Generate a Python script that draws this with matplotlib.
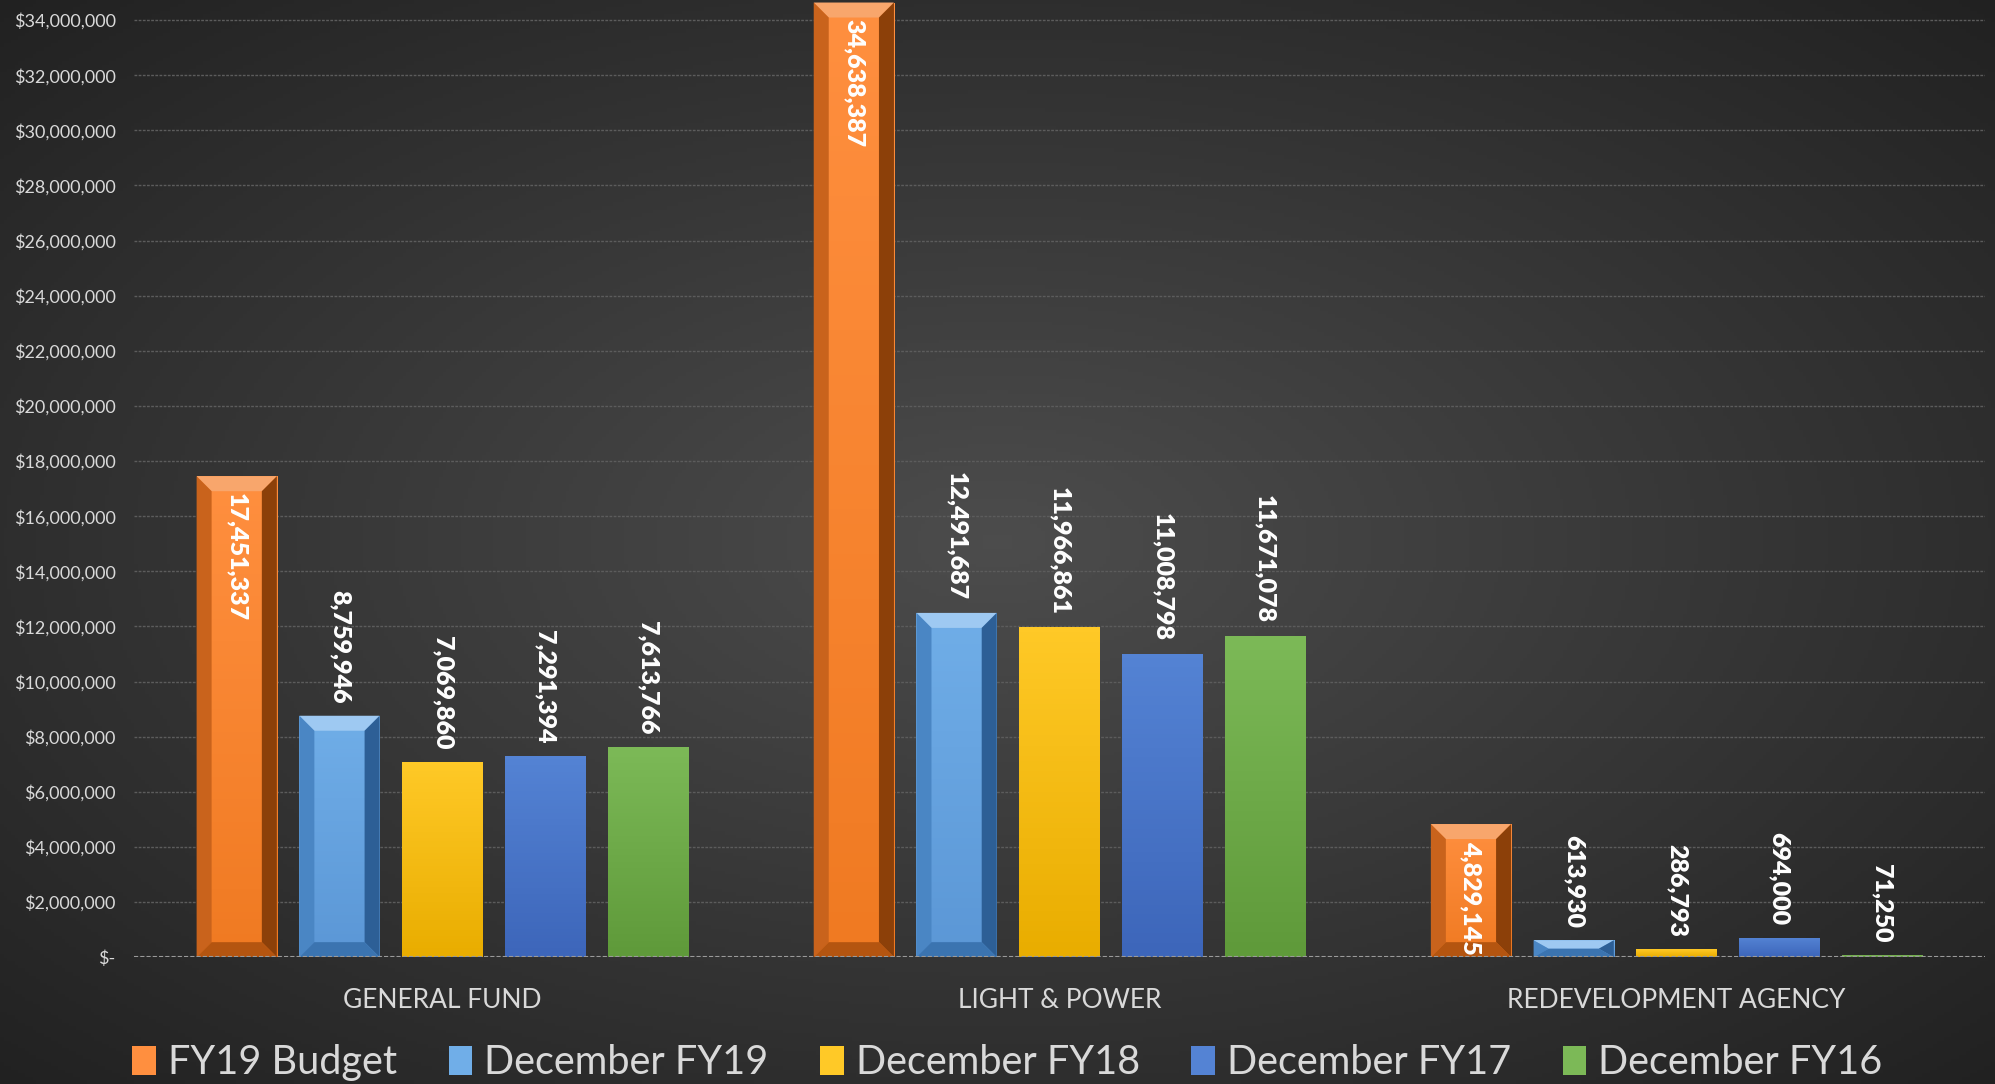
import numpy as np
import matplotlib
matplotlib.use("Agg")
import matplotlib.pyplot as plt
from matplotlib.patches import Polygon, Patch
from matplotlib.ticker import FuncFormatter, MultipleLocator

plt.rcParams["font.family"] = ["Lato", "DejaVu Sans"]

categories = ["GENERAL FUND", "LIGHT & POWER", "REDEVELOPMENT AGENCY"]
series = ["FY19 Budget", "December FY19", "December FY18", "December FY17", "December FY16"]
fy19_budget = [17451337, 34638387, 4829145]
dec_fy19 = [8759946, 12491687, 613930]
dec_fy18 = [7069860, 11966861, 286793]
dec_fy17 = [7291394, 11008798, 694000]
dec_fy16 = [7613766, 11671078, 71250]
values = [fy19_budget, dec_fy19, dec_fy18, dec_fy17, dec_fy16]

# (top colour, bottom colour) per series, and whether the bar is bevelled
top_cols = ["#ff8f3f", "#70aee8", "#ffc927", "#5483d4", "#7cb957"]
bot_cols = ["#f07a22", "#5b97d6", "#e9ad00", "#3d66ba", "#5f9a3a"]
bevel = [True, True, False, False, False]
bevel_cols = [
    # top, left, right, bottom
    ("#f8a66c", "#c9631c", "#8c4009", "#b45510"),
    ("#9ec9f2", "#4a86c4", "#2d5f96", "#3b74b0"),
]
label_inside = [True, False, False, False, False]

W, H = 1995, 1084
fig = plt.figure(figsize=(W / 100, H / 100), dpi=100)

# radial dark background
bg = fig.add_axes([0, 0, 1, 1], zorder=-10)
yy, xx = np.mgrid[0:1:300j, 0:1:550j]
r = np.sqrt(((xx - 0.5) / 0.75) ** 2 + ((yy - 0.5) / 0.75) ** 2)
shade = np.clip(0.30 - 0.18 * r, 0.12, 0.3)
bg.imshow(np.dstack([shade, shade, shade]), aspect="auto", extent=[0, 1, 0, 1])
bg.set_axis_off()

ax = fig.add_axes([0.067, 0.117, 0.928, 0.883])
ax.patch.set_alpha(0)
ymax = 34730000
ax.set_xlim(-0.5, 2.5)
ax.set_ylim(0, ymax)

slot = 0.1665
width = 0.13
x = np.arange(len(categories))

inv = ax.transData.inverted()
p0 = inv.transform((0, 0))
p1 = inv.transform((15, 15))
bx_px, by_px = p1 - p0

for i, vals in enumerate(values):
    xs = x + (i - 2) * slot
    bars = ax.bar(xs, vals, width=width, color=bot_cols[i], zorder=3, linewidth=0)
    grad = np.linspace(0, 1, 64)[:, None]
    c_top = np.array(matplotlib.colors.to_rgb(top_cols[i]))
    c_bot = np.array(matplotlib.colors.to_rgb(bot_cols[i]))
    img = c_top[None, None, :] * (1 - grad[:, :, None]) + c_bot[None, None, :] * grad[:, :, None]
    for b, v in zip(bars, vals):
        x0 = b.get_x()
        x1 = x0 + b.get_width()
        im = ax.imshow(img, extent=[x0, x1, 0, v], aspect="auto", zorder=3.1)
        im.set_clip_path(b)
        if bevel[i]:
            bx = min(bx_px, (x1 - x0) / 2)
            by = min(by_px, v / 2)
            ct, cl, cr, cb = bevel_cols[i]
            faces = [
                ([(x0, v), (x1, v), (x1 - bx, v - by), (x0 + bx, v - by)], ct),
                ([(x0, 0), (x0, v), (x0 + bx, v - by), (x0 + bx, by)], cl),
                ([(x1, 0), (x1, v), (x1 - bx, v - by), (x1 - bx, by)], cr),
                ([(x0, 0), (x1, 0), (x1 - bx, by), (x0 + bx, by)], cb),
            ]
            for pts, c in faces:
                ax.add_patch(Polygon(pts, closed=True, facecolor=c, edgecolor="none", zorder=3.2))
        xc = x0 + (x1 - x0) / 2
        if label_inside[i]:
            ax.annotate(f"{v:,}", (xc, v), xytext=(0, -12), textcoords="offset points",
                        rotation=270, ha="center", va="top", color="white",
                        fontsize=18, fontweight="heavy", zorder=5)
        else:
            ax.annotate(f"{v:,}", (xc, v), xytext=(0, 9), textcoords="offset points",
                        rotation=270, ha="center", va="bottom", color="white",
                        fontsize=18, fontweight="heavy", zorder=5)

ax.yaxis.set_major_locator(MultipleLocator(2000000))
ax.yaxis.set_major_formatter(FuncFormatter(lambda v, p: "$-" if v == 0 else f"${v:,.0f}"))
ax.grid(axis="y", color="#5c5c5c", linestyle=(0, (2, 1)), linewidth=1, zorder=0)
ax.axhline(0, color="#9a9a9a", linestyle=(0, (2, 1)), linewidth=1.5, zorder=4)
ax.set_xticks(x)
ax.set_xticklabels(categories)
ax.tick_params(axis="x", length=0, pad=22, labelsize=19, labelcolor="#d9d9d9")
ax.tick_params(axis="y", length=0, pad=13, labelsize=13, labelcolor="#d9d9d9")
for s in ax.spines.values():
    s.set_visible(False)

handles = [Patch(facecolor=top_cols[i], edgecolor="none") for i in range(len(series))]
leg = fig.legend(handles, series, loc="lower center", bbox_to_anchor=(0.505, -0.03), ncol=5,
                 frameon=False, fontsize=28.5, labelcolor="#d9d9d9", handlelength=0.6,
                 handleheight=0.75, handletextpad=0.3, columnspacing=1.3)

fig.savefig("out.png", dpi=100)
